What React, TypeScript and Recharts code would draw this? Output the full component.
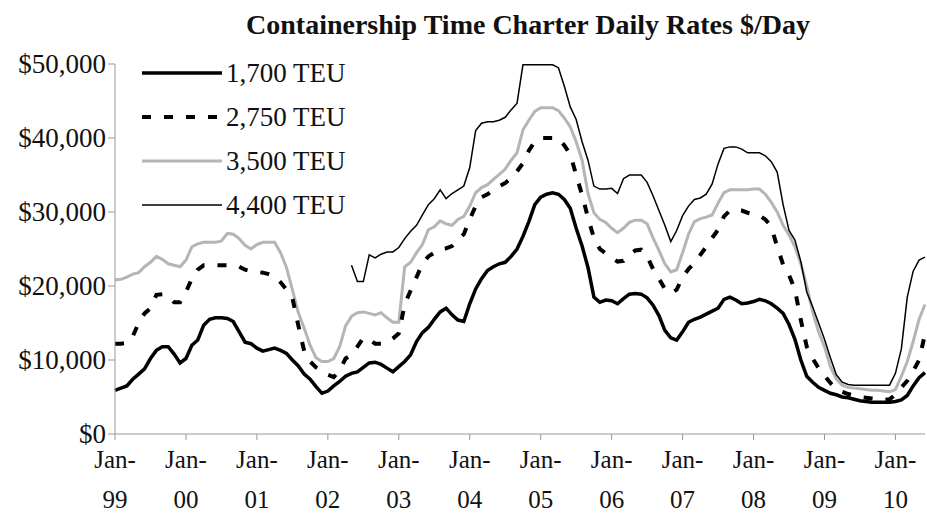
import { LineChart, Line, XAxis, YAxis } from "recharts";

// monthly rates, $ thousands / day, Jan-99 .. Jun-10
const rate1700 = [
  5.9, 6.2, 6.5, 7.4, 8.1, 8.8, 10.2, 11.3, 11.8, 11.8,
  10.8, 9.6, 10.2, 12.0, 12.7, 14.7, 15.5, 15.7, 15.7, 15.6,
  15.2, 13.8, 12.4, 12.2, 11.6, 11.2, 11.4, 11.6, 11.3, 10.9,
  10.0, 9.2, 8.1, 7.4, 6.4, 5.5, 5.8, 6.5, 7.1, 7.8,
  8.2, 8.4, 9.0, 9.6, 9.7, 9.4, 8.9, 8.4, 9.1, 9.8,
  10.7, 12.5, 13.7, 14.4, 15.5, 16.5, 17.0, 16.1, 15.4, 15.2,
  17.6, 19.6, 21.0, 22.1, 22.6, 23.0, 23.2, 24.0, 25.0, 26.7,
  28.7, 31.0, 32.0, 32.4, 32.6, 32.4, 31.7, 30.5, 27.8, 25.4,
  22.5, 18.5, 17.8, 18.1, 18.0, 17.6, 18.3, 18.9, 19.0, 18.9,
  18.4, 17.4, 16.0, 14.0, 13.0, 12.7, 13.8, 15.1, 15.5, 15.8,
  16.2, 16.6, 17.0, 18.2, 18.5, 18.1, 17.6, 17.7, 17.9, 18.2,
  18.0, 17.6, 17.0, 16.3, 14.8, 12.8, 10.0, 7.8, 7.0, 6.3,
  5.9, 5.5, 5.3, 5.0, 4.9, 4.7, 4.5, 4.4, 4.3, 4.3,
  4.3, 4.3, 4.4, 4.6, 5.2, 6.5, 7.6, 8.3,
];

const rate2750 = [
  12.2, 12.2, 12.3, 13.2, 15.0, 16.3, 17.0, 18.8, 18.9, 18.6,
  17.8, 17.8, 19.2, 21.0, 22.2, 22.8, 22.8, 22.8, 22.8, 22.8,
  22.8, 22.6, 22.2, 22.0, 21.9, 21.8, 21.6, 21.3, 20.5, 19.5,
  18.4, 14.7, 11.2, 9.8, 9.0, 8.5, 8.0, 7.7, 8.6, 10.2,
  10.7, 11.8, 13.0, 12.8, 12.2, 12.2, 12.4, 12.9, 13.6, 17.5,
  19.4, 21.2, 23.0, 24.0, 24.5, 25.0, 25.1, 25.4, 26.2, 27.0,
  29.0, 30.8, 32.0, 32.4, 33.0, 33.5, 33.9, 34.6, 35.5, 36.6,
  38.3, 39.5, 40.0, 40.0, 40.0, 40.0, 39.0, 37.8, 35.0, 32.3,
  29.2, 26.5, 25.0, 24.4, 23.8, 23.3, 23.4, 24.2, 24.8, 24.9,
  24.0, 22.3, 21.0, 19.6, 19.0, 19.5, 21.2, 22.3, 23.1, 24.2,
  25.3, 26.5, 27.6, 29.4, 30.2, 30.3, 30.2, 29.9, 29.7, 29.5,
  29.0, 28.0, 25.3, 22.9, 21.5, 19.5, 15.4, 11.8, 10.2, 8.9,
  7.9, 6.9, 6.1, 5.7, 5.4, 5.2, 5.0, 4.9, 4.8, 4.7,
  4.6, 4.7, 5.3, 6.3, 7.2, 8.5, 10.0, 13.5,
];

const rate3500 = [
  20.8, 20.9, 21.2, 21.6, 21.8, 22.6, 23.2, 24.0, 23.6, 23.0,
  22.8, 22.6, 23.5, 25.3, 25.7, 25.9, 25.9, 25.9, 26.1, 27.1,
  27.0, 26.4, 25.5, 25.0, 25.6, 25.9, 25.9, 25.9, 24.5, 22.5,
  19.5, 16.4, 14.3, 12.0, 10.3, 9.8, 9.8, 10.2, 11.8, 14.6,
  15.9, 16.4, 16.5, 16.3, 16.1, 16.4, 15.7, 15.1, 15.1, 22.6,
  23.2, 24.5, 25.6, 27.6, 28.0, 28.8, 28.4, 28.2, 29.0, 29.4,
  30.8, 32.6, 33.3, 33.7, 34.4, 35.1, 35.8, 37.0, 38.0, 41.1,
  42.4, 43.6, 44.1, 44.1, 44.1, 43.7, 42.7, 41.5, 39.5, 37.0,
  32.5, 29.9, 29.0, 28.6, 27.8, 27.2, 27.8, 28.6, 28.9, 28.9,
  28.4, 26.5, 24.8, 23.0, 21.9, 22.2, 24.5, 27.0, 28.7, 29.1,
  29.3, 29.6, 31.2, 32.6, 33.0, 33.0, 33.0, 33.0, 33.1, 33.1,
  32.4, 31.3, 30.0, 28.2, 26.9, 25.3, 23.0, 20.0, 16.5, 13.8,
  11.8, 9.1, 7.4, 6.6, 6.3, 6.2, 6.1, 6.0, 5.9, 5.9,
  5.8, 5.7, 6.0, 7.8, 9.8, 12.5, 15.5, 17.5,
];

const rate4400 = [
  null, null, null, null, null, null, null, null, null, null,
  null, null, null, null, null, null, null, null, null, null,
  null, null, null, null, null, null, null, null, null, null,
  null, null, null, null, null, null, null, null, null, null,
  22.8, 20.6, 20.6, 24.2, 23.8, 24.3, 24.6, 24.6, 25.2, 26.4,
  27.4, 28.2, 29.6, 31.0, 31.8, 33.0, 31.8, 32.5, 33.0, 33.5,
  36.0, 41.0, 42.0, 42.2, 42.2, 42.4, 42.8, 43.8, 44.7, 49.9,
  49.9, 49.9, 49.9, 49.9, 49.9, 49.5, 47.0, 44.2, 42.5, 39.5,
  37.0, 33.5, 33.1, 33.1, 33.2, 32.5, 34.5, 35.0, 35.0, 35.0,
  34.0, 32.2, 30.2, 28.2, 26.0, 27.5, 29.5, 30.8, 31.7, 31.9,
  32.4, 33.8, 36.5, 38.6, 38.8, 38.8, 38.5, 38.0, 38.0, 38.0,
  37.6, 36.8, 35.4, 31.0, 27.5, 26.2, 23.3, 19.2, 17.2, 15.0,
  12.8, 10.3, 8.0, 7.0, 6.7, 6.6, 6.6, 6.6, 6.6, 6.6,
  6.6, 6.6, 8.2, 11.5, 18.5, 22.0, 23.5, 23.9,
];

const yearLabels = ["99", "00", "01", "02", "03", "04", "05", "06", "07", "08", "09", "10"];
const yTicks = [0, 10, 20, 30, 40, 50];

const series = [
  { key: "r3500", name: "3,500 TEU", color: "#b5b5b5", width: 3, dash: undefined },
  { key: "r4400", name: "4,400 TEU", color: "#000", width: 1.5, dash: undefined },
  { key: "r2750", name: "2,750 TEU", color: "#000", width: 4, dash: "9 13" },
  { key: "r1700", name: "1,700 TEU", color: "#000", width: 3.5, dash: undefined },
];
const legendOrder = ["r1700", "r2750", "r3500", "r4400"];

const data = rate1700.map((v, i) => ({
  m: i,
  r1700: v,
  r2750: rate2750[i],
  r3500: rate3500[i],
  r4400: rate4400[i],
}));

const FONT = "'Liberation Serif', 'Times New Roman', serif";

const money = (v: number) => (v === 0 ? "$0" : `$${v},000`);

const YTick = ({ x, y, payload }: any) => (
  <text x={x} y={y} textAnchor="end" dominantBaseline="central" fontFamily={FONT} fontSize={27} fill="#111">
    {money(payload.value)}
  </text>
);

const XTick = ({ x, y, payload }: any) => (
  <text x={x} y={y} textAnchor="middle" fontFamily={FONT} fontSize={25} fill="#111">
    <tspan x={x} dy={26}>Jan-</tspan>
    <tspan x={x} dy={40}>{yearLabels[payload.value / 12]}</tspan>
  </text>
);

export default function App() {
  return (
    <div style={{ position: "absolute", left: 0, top: 0, width: 927, height: 521, background: "#fff" }}>
      <LineChart width={927} height={521} data={data} margin={{ top: 64, right: 2, bottom: 0, left: 0 }}>
        <XAxis
          dataKey="m"
          type="number"
          domain={[0, 137]}
          ticks={yearLabels.map((_, i) => i * 12)}
          tick={<XTick />}
          tickSize={6}
          height={87}
          stroke="#999"
          interval={0}
        />
        <YAxis
          domain={[0, 50]}
          ticks={yTicks}
          tick={<YTick />}
          tickSize={7}
          tickMargin={2}
          width={115}
          stroke="#999"
          interval={0}
        />
        {series.map((s) => (
          <Line
            key={s.key}
            dataKey={s.key}
            type="linear"
            stroke={s.color}
            strokeWidth={s.width}
            strokeDasharray={s.dash}
            dot={false}
            activeDot={false}
            isAnimationActive={false}
          />
        ))}
      </LineChart>
      <svg width={927} height={521} style={{ position: "absolute", left: 0, top: 0, pointerEvents: "none" }}>
        <text x={528} y={34} textAnchor="middle" fontFamily={FONT} fontSize={28} fontWeight="bold" fill="#111">
          Containership Time Charter Daily Rates $/Day
        </text>
        {legendOrder.map((k, i) => {
          const s = series.find((d) => d.key === k)!;
          const y = 73 + i * 44;
          return (
            <g key={k}>
              <line x1={142} x2={222} y1={y} y2={y} stroke={s.color} strokeWidth={s.width} strokeDasharray={s.dash} />
              <text x={226} y={y} dominantBaseline="central" fontFamily={FONT} fontSize={27} fill="#111">
                {s.name}
              </text>
            </g>
          );
        })}
      </svg>
    </div>
  );
}
